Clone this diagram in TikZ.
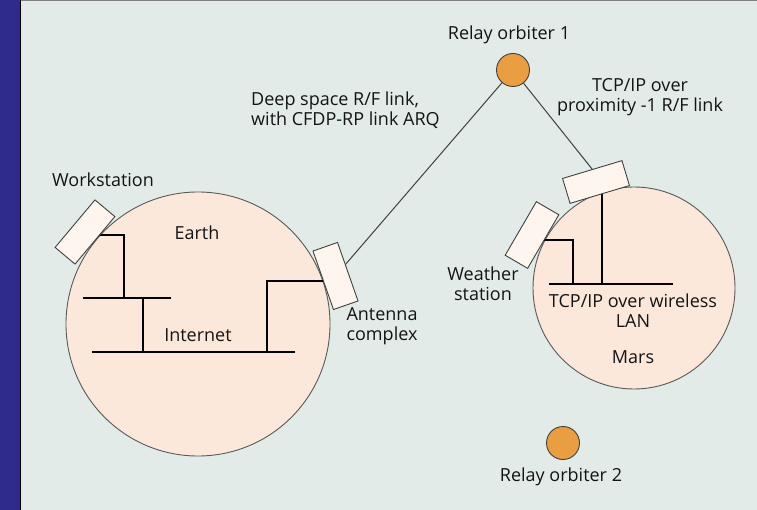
\documentclass[tikz,border=0pt]{standalone}
\usepackage{fontspec}
\setmainfont{Open Sans}
\usetikzlibrary{positioning}
\definecolor{backdrop}{RGB}{226,235,231}
\definecolor{sidebar}{RGB}{47,43,140}
\definecolor{planetfill}{RGB}{252,232,219}
\definecolor{unitfill}{RGB}{253,245,238}
\definecolor{orbiterfill}{RGB}{233,158,66}
\tikzset{globe/.style={circle,draw=black!65,fill=planetfill,line width=0.9pt,inner sep=0pt,minimum size=#1},
 unit/.style={rectangle,draw=black!75,fill=unitfill,line width=0.9pt,inner sep=0pt,minimum width=62pt,minimum height=26pt},
 sat/.style={circle,draw=black!75,fill=orbiterfill,line width=0.9pt,inner sep=0pt,minimum size=33pt},
 tap/.style={line width=1.1pt},bus/.style={line width=2pt},link/.style={line width=1pt,black!75},
 txt/.style={font=\fontsize{18}{20}\selectfont,align=center,inner sep=0pt},
 every node/.style={text=black!92}}
\begin{document}
\begin{tikzpicture}[x=1pt,y=-1pt]
\useasboundingbox (0,0) rectangle (757,510);
\fill[backdrop] (0,0) rectangle (757,510);
\fill[sidebar] (0,0) rectangle (20,510);
\draw[black,line width=1.2pt] (20.6,0)--(20.6,510);
\draw[gray,line width=1pt] (21,0.5)--(757,0.5);
\node[globe=264pt] (earth) at (198,324) {};
\node[globe=202pt] (mars) at (634,288) {};
\coordinate (wsTap) at (98,235);
\coordinate (lanTap) at (124,298);
\coordinate (lanL) at (83,298);
\coordinate (lanR) at (171,298);
\coordinate (lanDrop) at (143,298);
\coordinate (netTap) at (143,352);
\coordinate (netL) at (92,352);
\coordinate (netR) at (295,352);
\coordinate (antDrop) at (267,352);
\coordinate (antTap) at (330,281);
\draw[tap] (wsTap) -| (lanTap);
\draw[tap] (lanL) -- (lanR);
\draw[tap] (lanDrop) -- (netTap);
\draw[bus] (netL) -- (netR);
\draw[tap] (antDrop) |- (antTap);
\coordinate (relayTap) at (602,186);
\coordinate (wxTap) at (540,240);
\coordinate (lanML) at (549,284);
\coordinate (lanMR) at (673,284);
\coordinate (relayDrop) at (602,284);
\coordinate (wxDrop) at (573,284);
\draw[bus] (lanML) -- (lanMR);
\draw[tap] (relayTap) -- (relayDrop);
\draw[tap] (wxTap) -| (wxDrop);
\node[unit,rotate=50] (ws) at (85,232) {};
\node[unit,rotate=-70.7] (ant) at (335.5,276) {};
\node[unit,rotate=16.7] (relay) at (596,182) {};
\node[unit,rotate=59.8] (wx) at (532,235) {};
\node[sat] (orbA) at (513,70) {};
\node[sat] (orbB) at (563,443) {};
\draw[link] (ant) -- (orbA);
\draw[link] (orbA) -- (relay.north);
\node[txt] (wsName) at (103,180) {Workstation};
\node[txt] (earthName) at (197,233) {Earth};
\node[txt] (netName) at (198,335) {Internet};
\node[txt] (antName) at (382,326) {Antenna\\complex};
\node[txt,align=left,anchor=west] (deepName) at (251,110) {Deep space R/F link,\\with CFDP-RP link ARQ};
\node[txt] (orbAName) at (509,35) {Relay orbiter 1};
\node[txt] (proxName) at (640,97) {TCP/IP over\\proximity -1 R/F link};
\node[txt] (wxName) at (483,284) {Weather\\station};
\node[txt] (wlanName) at (633,311) {TCP/IP over wireless\\LAN};
\node[txt] (marsName) at (633,357) {Mars};
\node[txt] (orbBName) at (561,477) {Relay orbiter 2};
\end{tikzpicture}
\end{document}
